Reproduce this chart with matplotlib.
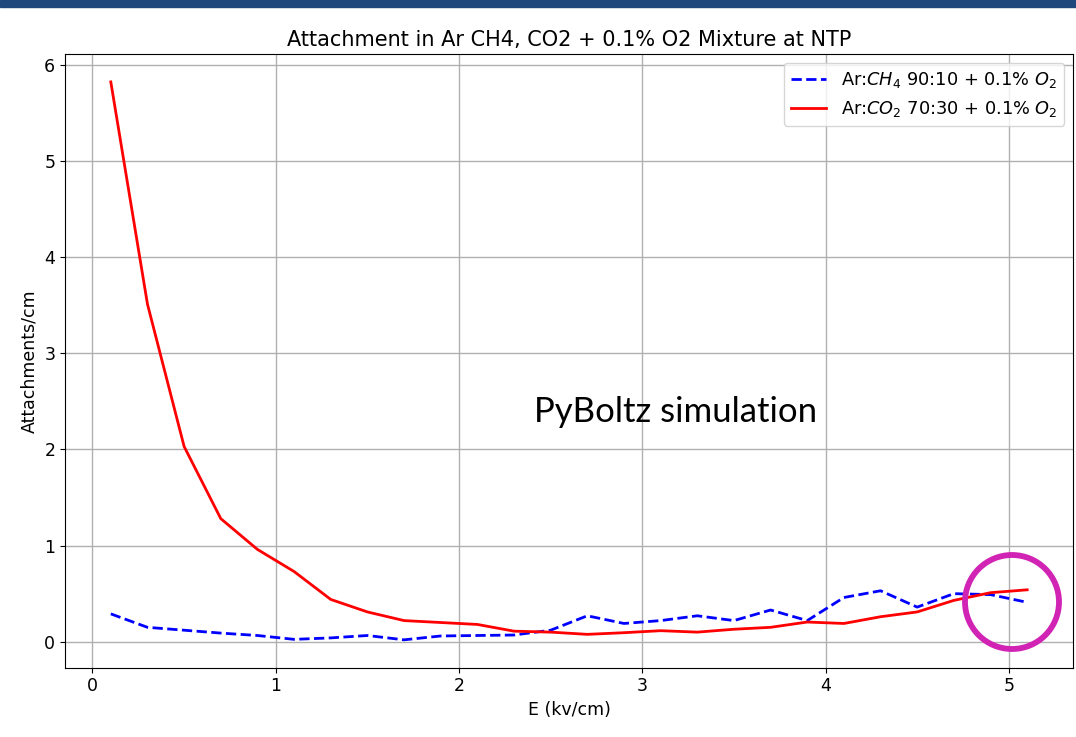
import matplotlib
matplotlib.use("Agg")
import matplotlib.pyplot as plt
from matplotlib.patches import Ellipse, Rectangle

E_field = [0.1, 0.3, 0.5, 0.7, 0.9, 1.1, 1.3, 1.5, 1.7, 1.9, 2.1, 2.3, 2.5,
           2.7, 2.9, 3.1, 3.3, 3.5, 3.7, 3.9, 4.1, 4.3, 4.5, 4.7, 4.9, 5.1]
att_ch4 = [0.29, 0.15, 0.12, 0.09, 0.065, 0.025, 0.04, 0.065, 0.02, 0.06, 0.065, 0.07, 0.12,
           0.27, 0.19, 0.22, 0.27, 0.22, 0.33, 0.22, 0.46, 0.53, 0.36, 0.50, 0.49, 0.41]
att_co2 = [5.82, 3.51, 2.03, 1.28, 0.96, 0.73, 0.44, 0.31, 0.22, 0.20, 0.18, 0.11, 0.10,
           0.077, 0.094, 0.115, 0.10, 0.13, 0.15, 0.205, 0.19, 0.26, 0.31, 0.43, 0.51, 0.54]

label_ch4 = r"Ar:$CH_4$ 90:10 + 0.1% $O_2$"
label_co2 = r"Ar:$CO_2$ 70:30 + 0.1% $O_2$"
title = "Attachment in Ar CH4, CO2 + 0.1% O2 Mixture at NTP"
xlabel = "E (kv/cm)"
ylabel = "Attachments/cm"
note = "PyBoltz simulation"

fig = plt.figure(figsize=(10.76, 7.37), dpi=100)
ax = fig.add_axes([0.0604, 0.094, 0.9368, 0.8327])
ax.plot(E_field, att_ch4, "b--", lw=2, label=label_ch4)
ax.plot(E_field, att_co2, "r-", lw=2, label=label_co2)
ax.grid(True, color="#b0b0b0", lw=1.0)
ax.set_title(title, fontsize=15)
ax.set_xlabel(xlabel, fontsize=12.5)
ax.set_ylabel(ylabel, fontsize=12.5)
ax.tick_params(labelsize=12.5)
ax.legend(loc="upper right", fontsize=12.8)
ax.text(0.465, 0.40, note, transform=ax.transAxes, fontsize=25, family="Lato")

# top decorative band
fig.patches.append(Rectangle((0, 1 - 7/737), 1, 7/737, transform=fig.transFigure,
                             color="#1F497D", zorder=10))
# highlight circle
fig.patches.append(Ellipse((1012/1076, 1 - 602/737), 94/1076, 94/737,
                           transform=fig.transFigure, fill=False,
                           edgecolor="#D124B4", lw=4.2, zorder=10))
fig.savefig("out.png", dpi=100)
